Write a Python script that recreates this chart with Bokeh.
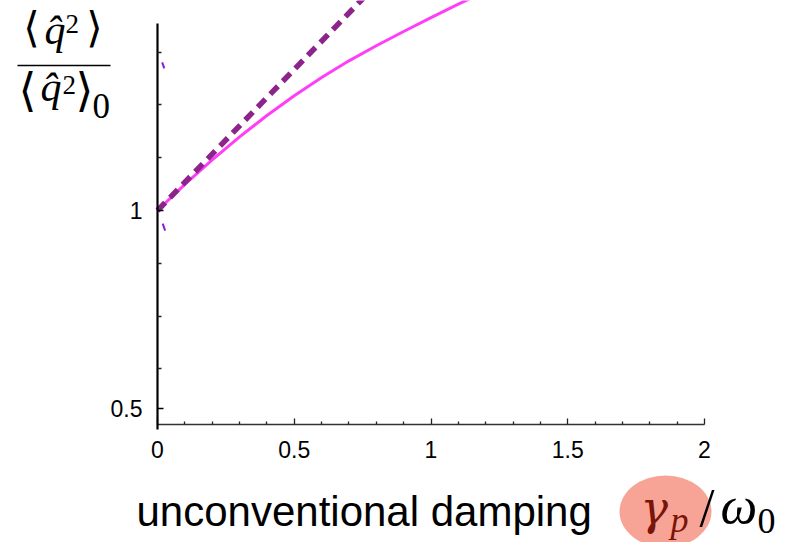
from bokeh.plotting import figure
from bokeh.models import Range1d, FixedTicker, Label
from bokeh.embed import file_html
from bokeh.resources import INLINE

# ---------------- data ----------------
x_tick_values = [0, 0.5, 1, 1.5, 2]
x_tick_labels = ["0", "0.5", "1", "1.5", "2"]
x_minor_ticks = [0.1, 0.2, 0.3, 0.4, 0.6, 0.7, 0.8, 0.9, 1.1, 1.2, 1.3, 1.4,
                 1.6, 1.7, 1.8, 1.9]
y_tick_values = [0.5, 1]
y_tick_labels = ["0.5", "1"]
y_minor_ticks = [0.6, 0.7333, 0.8667, 1.1333, 1.2667, 1.4]

# exact ratio <q^2>/<q^2>_0 versus gamma_p/omega_0 (solid magenta)
damping = [0.0, 0.1, 0.2, 0.3, 0.4, 0.5, 0.6, 0.7, 0.8, 0.9, 1.0, 1.1, 1.2]
ratio_exact = [1.0, 1.066, 1.128, 1.186, 1.240, 1.290, 1.336, 1.378, 1.416,
               1.452, 1.487, 1.521, 1.554]

# small-damping approximation (dashed purple)
damping_approx = [0.0, 0.8]
ratio_approx = [1.0, 1.57]

# tiny stray curve fragments near the origin
stray1_x = [0.017, 0.025]
stray1_y = [1.374, 1.359]
stray2_x = [0.019, 0.028]
stray2_y = [0.967, 0.949]

# ---------------- layout ----------------
W, H = 798, 542
X0_PX, X_SCALE = 157.0, 273.5      # pixel of x=0, pixels per x unit
Y1_PX, Y_SCALE = 210.0, 396.0      # pixel of y=1, pixels per y unit
AXIS_Y_PX = 424.0


def xd(px):
    return (px - X0_PX) / X_SCALE


def yd(py):
    return 1 + (Y1_PX - py) / Y_SCALE


p = figure(width=W, height=H, output_backend="svg", toolbar_location=None,
           x_range=Range1d(xd(0), xd(W)), y_range=Range1d(yd(H), yd(0)),
           min_border=0)
p.outline_line_color = None
p.grid.visible = False
p.background_fill_color = "white"
p.border_fill_color = "white"

TICK_FONT_SIZE = "23px"

# x axis
xa = p.xaxis[0]
xa.fixed_location = yd(AXIS_Y_PX)
xa.bounds = (x_tick_values[0], x_tick_values[-1])
xa.ticker = FixedTicker(ticks=x_tick_values, minor_ticks=x_minor_ticks)
xa.major_label_overrides = {v: s for v, s in zip(x_tick_values, x_tick_labels)}
xa.axis_line_color = "#333333"
xa.axis_line_width = 1.6
xa.major_tick_in = 6
xa.major_tick_out = 0
xa.minor_tick_in = 3
xa.minor_tick_out = 0
xa.major_tick_line_color = "#222222"
xa.minor_tick_line_color = "#222222"
xa.major_tick_line_width = 1.3
xa.minor_tick_line_width = 1.3
xa.major_label_text_font = "Liberation Sans"
xa.major_label_text_font_size = TICK_FONT_SIZE
xa.major_label_text_color = "black"
xa.major_label_standoff = 16

# y axis
ya = p.yaxis[0]
ya.fixed_location = 0
ya.bounds = (yd(429), yd(23))
ya.ticker = FixedTicker(ticks=y_tick_values, minor_ticks=y_minor_ticks)
ya.major_label_overrides = {v: s for v, s in zip(y_tick_values, y_tick_labels)}
ya.axis_line_color = "black"
ya.axis_line_width = 2.2
ya.major_tick_in = 6
ya.major_tick_out = 0
ya.minor_tick_in = 4
ya.minor_tick_out = 0
ya.major_tick_line_color = "black"
ya.minor_tick_line_color = "#222222"
ya.major_tick_line_width = 1.3
ya.minor_tick_line_width = 1.3
ya.major_label_text_font = "Liberation Sans"
ya.major_label_text_font_size = TICK_FONT_SIZE
ya.major_label_text_color = "black"
ya.major_label_standoff = 15

# curves
p.line(damping, ratio_exact, line_color="#ff3ff7", line_width=3)
p.line(damping_approx, ratio_approx, line_color="#8c248c", line_width=5.5,
       line_dash="11 7")
p.line(stray1_x, stray1_y, line_color="#8a1ed6", line_width=2)
p.line(stray2_x, stray2_y, line_color="#8a1ed6", line_width=2)


def lab(text, px, py, size, font="Liberation Serif", style="normal",
        color="black", align="left", baseline="alphabetic"):
    # compensate Bokeh's text-box baseline placement
    shift = 0.32 * size if baseline == "alphabetic" else 0.09 * size
    p.add_layout(Label(x=xd(px), y=yd(py - shift), text=text,
                       text_font=font, text_font_size=f"{size}px",
                       text_font_style=style, text_color=color,
                       text_align=align, text_baseline=baseline))


# y-axis label: <q^2> / <q^2>_0
lab("\u27e8", 31, 31, 42, font="DejaVu Serif", align="center", baseline="middle")
lab("q\u0302", 44, 43, 42, style="italic")
lab("2", 65, 32, 27)
lab("\u27e9", 94, 31, 42, font="DejaVu Serif", align="center", baseline="middle")
p.segment(x0=[xd(17)], y0=[yd(65)], x1=[xd(110)], y1=[yd(65)],
          line_color="black", line_width=1.6)
lab("\u27e8", 27, 94, 46, font="DejaVu Serif", align="center", baseline="middle")
lab("q\u0302", 40, 100, 42, style="italic")
lab("2", 62, 93, 27)
lab("\u27e9", 84, 94, 46, font="DejaVu Serif", align="center", baseline="middle")
lab("0", 92, 117, 35)

# x-axis label
lab("unconventional damping", 136, 524, 42, font="Liberation Sans")
p.ellipse(x=[xd(665)], y=[yd(511)], width=[92], height=[72],
          width_units="screen", height_units="screen",
          fill_color="#f7a497", line_color=None)
lab("\u03b3", 640, 522, 46, font="DejaVu Serif", style="italic", color="#7a1408")
lab("p", 670, 531, 36, style="italic", color="#7a1408")
lab("/", 699, 525, 54)
lab("\u03c9", 720, 522, 52, style="italic")
lab("0", 757, 532, 36)

open("out.html", "w").write(file_html(p, INLINE))
